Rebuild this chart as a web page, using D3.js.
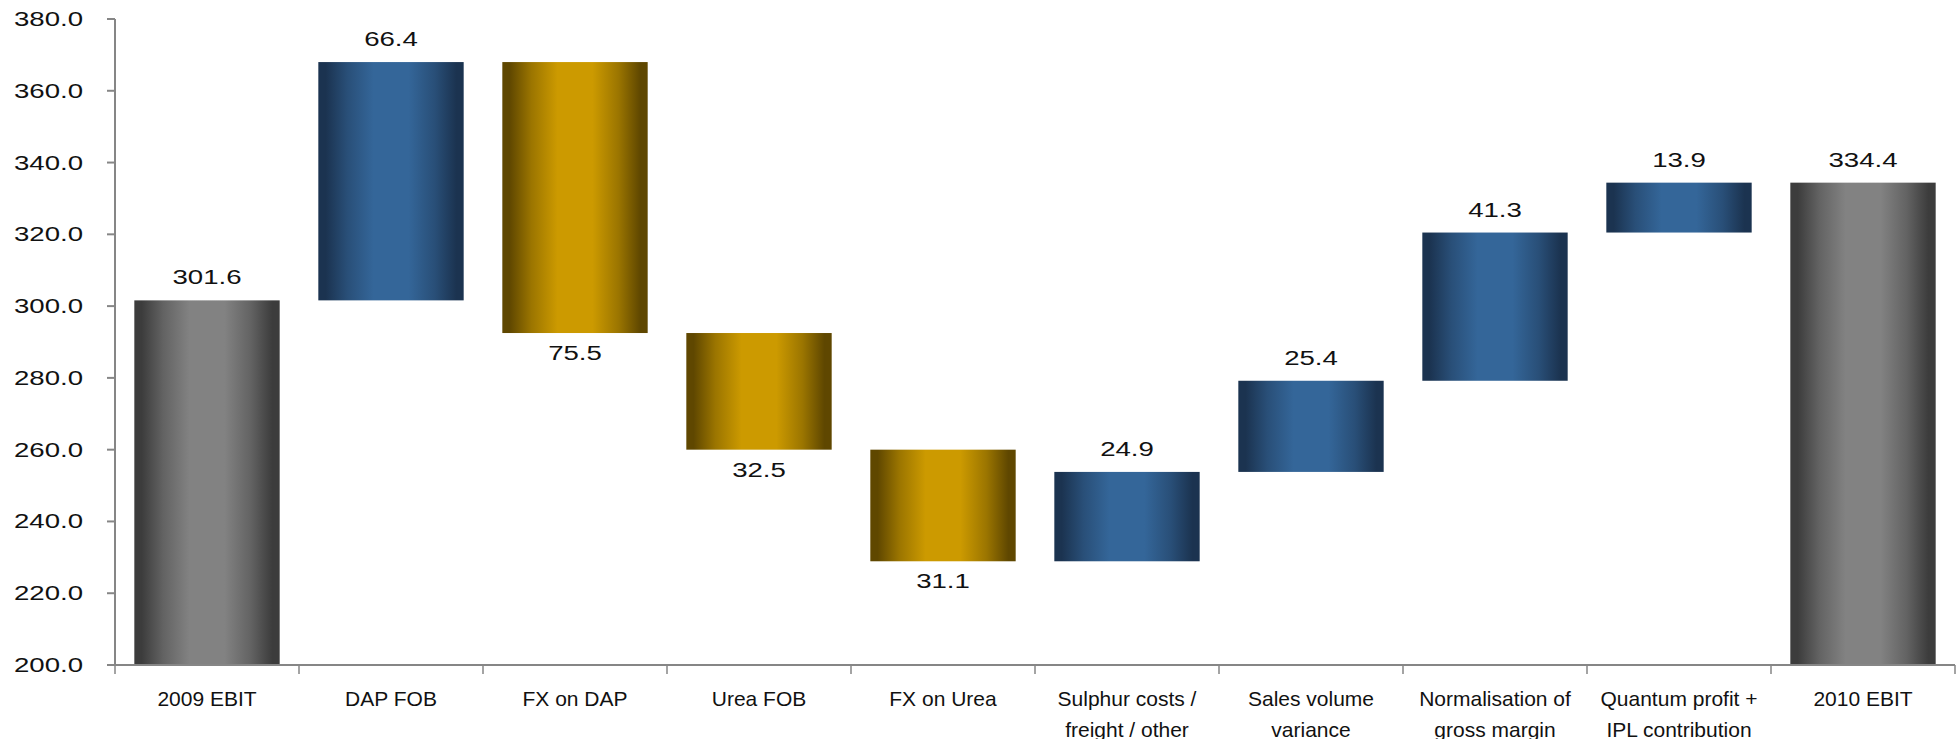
<!DOCTYPE html>
<html>
<head>
<meta charset="utf-8">
<script src="https://cdn.jsdelivr.net/npm/d3@7"></script>
<style>
    body { margin: 0; background: #fff; }
    text { font-family: "Liberation Sans", Arial, sans-serif; fill: #111; }
</style>
</head>
<body>
<div id="chart"></div>
<script>
// data
var categories = [
    ["2009 EBIT"],
    ["DAP FOB"],
    ["FX on DAP"],
    ["Urea FOB"],
    ["FX on Urea"],
    ["Sulphur costs /", "freight / other"],
    ["Sales volume", "variance"],
    ["Normalisation of", "gross margin"],
    ["Quantum profit +", "IPL contribution"],
    ["2010 EBIT"]
];
var changes = [301.6, 66.4, -75.5, -32.5, -31.1, 24.9, 25.4, 41.3, 13.9, 334.4];
var kinds = ["total", "up", "down", "down", "down", "up", "up", "up", "up", "total"];
var yTicks = [200, 220, 240, 260, 280, 300, 320, 340, 360, 380];

// parameters
var svgWidth = 1959;
var svgHeight = 739;
var numStretch = 1.38;

var margin = { top: 19, right: 4, bottom: 74, left: 115 };
var chartWidth = svgWidth - margin.left - margin.right;
var chartHeight = svgHeight - margin.top - margin.bottom;

var colors = {
    total: ["#3c3c3c", "#828282"],
    up: ["#1b3350", "#346699"],
    down: ["#5f4700", "#cc9a00"]
};

// running totals
var bars = [];
var level = 0;
changes.forEach(function (v, i) {
    var start, end;
    if (kinds[i] === "total") {
        start = 200;
        end = v;
        level = v;
    } else {
        start = level;
        end = level + v;
        level = end;
    }
    bars.push({ i: i, kind: kinds[i], value: v, start: start, end: end });
});

var svg = d3.select("#chart")
    .append("svg")
    .attr("width", svgWidth)
    .attr("height", svgHeight);

var defs = svg.append("defs");
Object.keys(colors).forEach(function (k) {
    var g = defs.append("linearGradient")
        .attr("id", "grad-" + k)
        .attr("x1", "0%").attr("x2", "100%")
        .attr("y1", "0%").attr("y2", "0%");
    var dark = colors[k][0], light = colors[k][1];
    var mid = d3.interpolateRgb(dark, light)(0.55);
    [[0, dark], [0.05, dark], [0.2, mid], [0.38, light], [0.62, light], [0.8, mid], [0.95, dark], [1, dark]]
        .forEach(function (s) {
            g.append("stop").attr("offset", s[0]).attr("stop-color", s[1]);
        });
});

var chartGroup = svg.append("g")
    .attr("transform", `translate(${margin.left}, ${margin.top})`);

var xScale = d3.scaleBand()
    .domain(d3.range(categories.length))
    .range([0, chartWidth])
    .paddingInner(0.21)
    .paddingOuter(0.105);

var yScale = d3.scaleLinear()
    .domain([200, 380])
    .range([chartHeight, 0]);

// bars
chartGroup.selectAll(".bar")
    .data(bars)
    .enter()
    .append("rect")
    .attr("class", "bar")
    .attr("x", d => xScale(d.i))
    .attr("width", xScale.bandwidth())
    .attr("y", d => yScale(Math.max(d.start, d.end)))
    .attr("height", d => Math.abs(yScale(d.start) - yScale(d.end)))
    .attr("fill", d => "url(#grad-" + d.kind + ")");

// value labels
chartGroup.selectAll(".val")
    .data(bars)
    .enter()
    .append("text")
    .attr("class", "val")
    .attr("text-anchor", "middle")
    .attr("font-size", "20px")
    .attr("transform", function (d) {
        var x = xScale(d.i) + xScale.bandwidth() / 2;
        var y = d.kind === "down" ? yScale(d.end) + 27 : yScale(d.end) - 16;
        return `translate(${x}, ${y}) scale(${numStretch}, 1)`;
    })
    .text(d => Math.abs(d.value).toFixed(1));

// y axis
var yAxis = chartGroup.append("g").attr("class", "y-axis");
yAxis.append("line")
    .attr("x1", 0).attr("x2", 0)
    .attr("y1", 0).attr("y2", chartHeight)
    .attr("stroke", "#868686").attr("stroke-width", 2);
var yTick = yAxis.selectAll(".ytick")
    .data(yTicks)
    .enter()
    .append("g")
    .attr("class", "ytick")
    .attr("transform", d => `translate(0, ${yScale(d)})`);
yTick.append("line")
    .attr("x1", -8).attr("x2", 0)
    .attr("stroke", "#868686").attr("stroke-width", 2);
yTick.append("text")
    .attr("text-anchor", "end")
    .attr("font-size", "20px")
    .attr("transform", `translate(-32, 7) scale(${numStretch}, 1)`)
    .text(d => d3.format(".1f")(d));

// x axis
var xAxis = chartGroup.append("g")
    .attr("class", "x-axis")
    .attr("transform", `translate(0, ${chartHeight})`);
xAxis.append("line")
    .attr("x1", 0).attr("x2", chartWidth)
    .attr("stroke", "#868686").attr("stroke-width", 2);
var step = xScale.step();
xAxis.selectAll(".xtick")
    .data(d3.range(categories.length + 1))
    .enter()
    .append("line")
    .attr("class", "xtick")
    .attr("x1", d => d * step).attr("x2", d => d * step)
    .attr("y1", 0).attr("y2", 9)
    .attr("stroke", "#868686").attr("stroke-width", 1.5);

var xLabel = xAxis.selectAll(".xlabel")
    .data(categories)
    .enter()
    .append("text")
    .attr("class", "xlabel")
    .attr("text-anchor", "middle")
    .attr("font-size", "21px")
    .attr("x", (d, i) => xScale(i) + xScale.bandwidth() / 2)
    .attr("y", 41);
xLabel.selectAll("tspan")
    .data(d => d)
    .enter()
    .append("tspan")
    .attr("x", function () { return d3.select(this.parentNode).attr("x"); })
    .attr("dy", (d, i) => i === 0 ? 0 : 31)
    .text(d => d);
</script>
</body>
</html>
